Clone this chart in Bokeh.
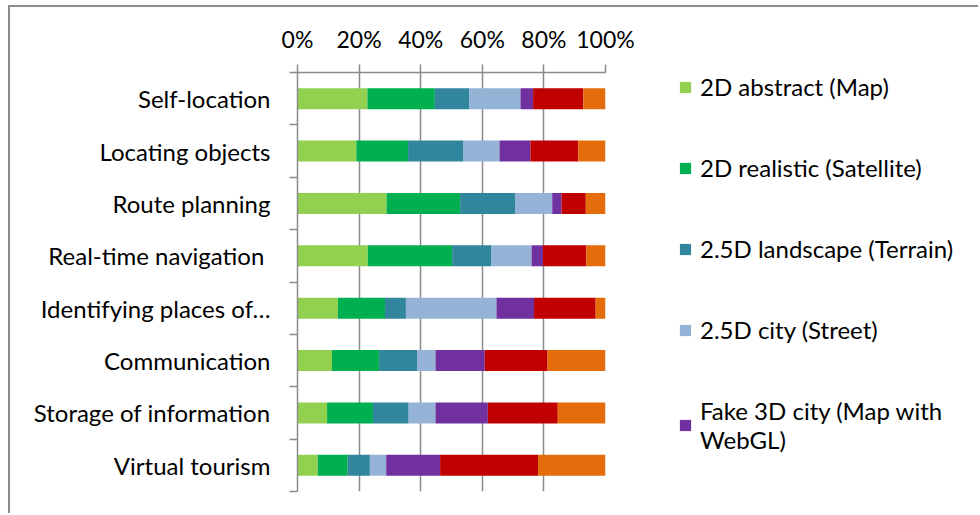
from bokeh.plotting import figure
from bokeh.layouts import row
from bokeh.models import (Range1d, FixedTicker, Legend, LegendItem,
                          PrintfTickFormatter, ColumnDataSource)
from bokeh.embed import file_html
from bokeh.resources import INLINE

categories = ["Self-location", "Locating objects", "Route planning",
              "Real-time navigation ", "Identifying places of\u2026",
              "Communication", "Storage of information", "Virtual tourism"]

series_names = ["2D abstract (Map)", "2D realistic (Satellite)",
                "2.5D landscape (Terrain)", "2.5D city (Street)",
                "Fake 3D city (Map with\nWebGL)", "series6", "series7"]

abstract_2d = [22.7, 19.1, 28.9, 22.8, 13.1, 11.2, 9.6, 6.6]
realistic_2d = [21.9, 16.8, 23.9, 27.4, 15.3, 15.3, 14.9, 9.7]
landscape_25d = [11.1, 18.0, 18.0, 12.8, 6.8, 12.3, 11.6, 7.2]
city_25d = [16.7, 11.7, 11.9, 13.0, 29.4, 6.0, 8.7, 5.3]
fake3d = [4.1, 10.0, 3.0, 3.7, 12.2, 16.0, 17.0, 17.5]
series6 = [16.3, 15.6, 7.9, 14.1, 20.0, 20.4, 22.7, 31.8]
series7 = [7.2, 8.8, 6.4, 6.2, 3.2, 18.8, 15.5, 21.9]

x_ticks = [0, 20, 40, 60, 80, 100]

colors = ["#92D050", "#00B050", "#31859C", "#95B3D7", "#7030A0", "#C00000", "#E46C0A"]
keys = ["s1", "s2", "s3", "s4", "s5", "s6", "s7"]

n = len(categories)
ypos = [n - i - 0.5 for i in range(n)]
src = ColumnDataSource(dict(y=ypos, s1=abstract_2d, s2=realistic_2d, s3=landscape_25d,
                            s4=city_25d, s5=fake3d, s6=series6, s7=series7))

FONT = "Lato"
GRAY = "#8a8a8a"
BORDER = "2px solid #8c8c8c"

p = figure(width=635, height=508, x_range=Range1d(0, 100), y_range=Range1d(0, n),
           x_axis_location="above", output_backend="svg", toolbar_location=None,
           min_border_left=287, min_border_right=40, min_border_top=65,
           min_border_bottom=24)
p.outline_line_color = None
p.styles = {"margin-left": "8px", "margin-top": "5px",
            "border-left": BORDER, "border-top": BORDER}

rs = p.hbar_stack(keys, y="y", height=0.4, color=colors, source=src, line_color=None)

# x axis (top)
p.xaxis.ticker = FixedTicker(ticks=x_ticks, minor_ticks=[])
p.xaxis.formatter = PrintfTickFormatter(format="%d%%")
p.xaxis.axis_line_color = GRAY
p.xaxis.axis_line_width = 1.5
p.xaxis.major_tick_line_color = GRAY
p.xaxis.major_tick_line_width = 1.5
p.xaxis.major_tick_out = 8
p.xaxis.major_tick_in = 0
p.xaxis.minor_tick_line_color = None
p.xaxis.major_label_text_font = FONT
p.xaxis.major_label_text_font_size = "23px"
p.xaxis.major_label_text_color = "#000000"
p.xaxis.major_label_standoff = 12

p.xgrid.grid_line_color = GRAY
p.xgrid.grid_line_width = 1.5
p.ygrid.grid_line_color = None

# y axis (left)
p.yaxis.ticker = FixedTicker(ticks=ypos, minor_ticks=list(range(n + 1)))
p.yaxis.major_label_overrides = {y: c for y, c in zip(ypos, categories)}
p.yaxis.axis_line_color = GRAY
p.yaxis.axis_line_width = 1.5
p.yaxis.major_tick_line_color = None
p.yaxis.major_tick_out = 0
p.yaxis.major_tick_in = 0
p.yaxis.minor_tick_line_color = GRAY
p.yaxis.minor_tick_line_width = 1.5
p.yaxis.minor_tick_out = 8
p.yaxis.minor_tick_in = 0
p.yaxis.major_label_text_font = FONT
p.yaxis.major_label_text_font_size = "24px"
p.yaxis.major_label_text_color = "#000000"
p.yaxis.major_label_standoff = 19

# legend panel: same stacked series, kept outside its visible range so only the legend shows
q = figure(width=335, height=508, x_range=Range1d(-2, -1), y_range=Range1d(0, n),
           x_axis_type=None, y_axis_type=None, output_backend="svg",
           toolbar_location=None, min_border=0)
q.outline_line_color = None
q.grid.grid_line_color = None
q.styles = {"margin-top": "5px", "border-top": BORDER}
lrs = q.hbar_stack(keys, y="y", height=0.4, color=colors, source=src, line_color=None)

items = [LegendItem(label=series_names[i], renderers=[lrs[i]]) for i in range(5)]
legend = Legend(items=items, location=(35, 37), orientation="vertical",
                label_text_font=FONT, label_text_font_size="24px",
                label_text_color="#000000",
                glyph_width=14, glyph_height=14, label_standoff=8,
                spacing=52, padding=0, margin=0,
                border_line_color=None, background_fill_alpha=0)
q.add_layout(legend, "center")

layout = row(p, q)
open("out.html", "w").write(file_html(layout, INLINE))
